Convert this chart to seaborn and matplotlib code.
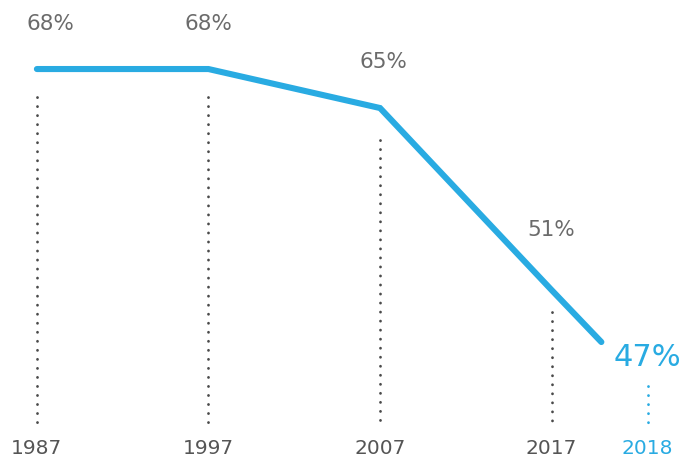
import matplotlib
matplotlib.use("Agg")
import matplotlib.pyplot as plt
import seaborn as sns
import pandas as pd
import numpy as np

years = ["1987", "1997", "2007", "2017", "2018"]
values = [68, 68, 65, 51, 47]
labels = ["68%", "68%", "65%", "51%", "47%"]

BLUE = "#29abe2"
GRAY = "#6b6b6b"
DOT = "#4a4a4a"

sns.set_style("white")
plt.rcParams['font.family'] = ['DejaVu Sans']

# layout: x positions for categories (last point sits closer)
xpos = np.arange(len(years)).astype(float)
xpos[-1] = 3.29
label_x = xpos.copy()
label_x[-1] = 3.56

df = pd.DataFrame({"x": xpos, "value": values})

fig = plt.figure(figsize=(6.94, 4.58), dpi=100)
ax = fig.add_axes([0, 0, 1, 1])
sns.lineplot(data=df, x="x", y="value", ax=ax, color=BLUE, linewidth=4.4,
             solid_capstyle="round", solid_joinstyle="miter")

ax.set_xlim(-0.215, 3.83)
ax.set_ylim(38.08, 73.31)
for s in ax.spines.values():
    s.set_visible(False)
ax.set_xticks([]); ax.set_yticks([])
ax.set_xlabel(""); ax.set_ylabel("")

gaps = [2.15, 2.15, 2.45, 1.7]
bottom = 40.6
dotstyle = (0, (0.05, 3.2))
for i in range(4):
    ax.plot([xpos[i], xpos[i]], [values[i] - gaps[i], bottom], color=DOT,
            linewidth=2.0, linestyle=dotstyle, dash_capstyle="round")
# 2018 short dotted line
ax.plot([label_x[-1], label_x[-1]], [43.6, bottom], color=BLUE,
        linewidth=2.0, linestyle=dotstyle, dash_capstyle="round")

# value labels
label_offsets = [(0.08, 68 + 3.45), (0, 68 + 3.45), (0.02, 65 + 3.55), (0, 51 + 4.65)]
for i, (dx, yv) in enumerate(label_offsets):
    ax.text(xpos[i] + dx, yv, labels[i], ha="center", va="center",
            fontsize=15.5, color=GRAY)
ax.text(label_x[-1], 45.8, labels[-1], ha="center", va="center",
        fontsize=22, color=BLUE)

# year labels
for i in range(5):
    ax.text(label_x[i] if i == 4 else xpos[i], 38.8, years[i], ha="center", va="center",
            fontsize=14.5, color=BLUE if i == 4 else "#555555")

fig.savefig("out.png", dpi=100)
